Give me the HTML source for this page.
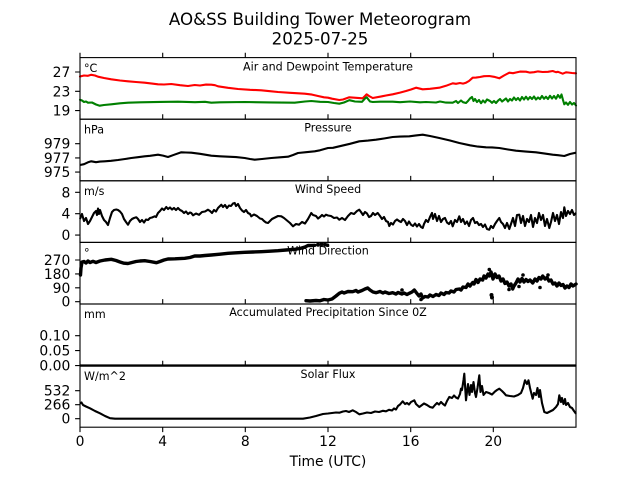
<!DOCTYPE html>
<html>
<head>
<meta charset="utf-8">
<style>
  html, body { margin: 0; padding: 0; background: #ffffff; }
  svg { display: block; }
  text { font-family: "DejaVu Sans", "Liberation Sans", sans-serif; fill: #000; }
</style>
</head>
<body>
<svg width="640" height="480" viewBox="0 0 640 480" xmlns="http://www.w3.org/2000/svg">
  <rect x="0" y="0" width="640" height="480" fill="#fff"/>

  <!-- Title -->
  <text x="320" y="24.8" font-size="16.67" text-anchor="middle">AO&amp;SS Building Tower Meteorogram</text>
  <text x="320" y="44.3" font-size="16.67" text-anchor="middle">2025-07-25</text>

  <!-- ================= Panel 1: Temperature ================= -->
  <g fill="none" stroke-linejoin="round" stroke-linecap="round">
    <path stroke="#ff0000" stroke-width="2.1" d="M80,76.5 L84,75.5 L88,75.8 L91.3,74.8 L95,75.5 L98,76.7 L104,78 L111.3,79.3 L120,80.5 L128,81.3 L136,82 L144.7,82.7 L152,83.6 L158,84.3 L164,84.5 L171.3,84 L180,85.2 L188,86 L194.7,85 L200,85.5 L206,84.6 L211.3,84.7 L215,85.2 L218,86.3 L228,87.8 L238,89 L250,89.8 L261.3,90.3 L270,91.2 L278,92 L290,92.8 L304.7,93.7 L312,94.6 L318,96 L324,97.3 L328,97.7 L332,98.7 L339.3,100 L343,99.5 L349.3,97.3 L356,97.8 L362.7,98.3 L365,96 L366.7,94.3 L369,96 L372.7,98 L380,96.7 L386,95.5 L392.7,94.3 L400,92.6 L406,91 L411,89.5 L416,87.7 L422.7,89.3 L430,88.8 L439.3,87.7 L446,85.8 L452.7,83.3 L456,83.8 L460,83 L463,83.6 L466,82.7 L469,81 L472.7,77.7 L476,77.6 L480,77 L484,76.2 L489.3,76 L494,76.8 L499.3,78.3 L504,75.5 L509.3,72.7 L513,73.2 L516,72.5 L520,71.6 L526,71.7 L530,72.6 L534,72.2 L538,71.4 L542.7,72 L548,71.8 L552.7,71 L556,72.2 L558,71.8 L562.7,73.7 L566,72.3 L568,72.5 L572,73 L576,73.3"/>
    <path stroke="#008000" stroke-width="2.1" d="M80,99.8 L82,100.5 L84,102 L86,101.5 L88,102.7 L92,102.5 L96,104.5 L99.7,105.7 L104,105 L111.3,104.3 L120,103.3 L128,102.7 L140,102.3 L160,101.9 L178,101.7 L195,102.2 L205,101.8 L211.3,102.7 L220,102.3 L244.7,102 L270,102.4 L294.7,102.7 L305,101.5 L311.3,101 L320,101.8 L328,102 L334,103 L339.3,103.7 L344,102.5 L349.3,100.2 L355,101.5 L362,101.8 L365,98.5 L366.7,97.2 L368,99 L370,101.5 L372.7,102 L380,101.7 L392.7,101.7 L400,102.2 L410,101.5 L420,102.3 L426,102 L436,102.5 L440,101.5 L446,102.6 L452.7,102.7 L456,101 L458,103 L461,100.5 L463,102.2 L466,103 L468,101 L470,98.5 L472,97 L473.5,101 L475,99 L477,102 L479,100 L481,103.2 L483,100.5 L485,102.5 L487,99.5 L490,101 L492,102.8 L494,101 L496,103 L498,100.7 L500,99 L502,101.5 L504,100 L506,98.5 L508,101.5 L510,99 L512,100.5 L514,97.5 L516,100 L518,98 L520,100.5 L522,97 L524,99.5 L526,96.7 L528,99.5 L530,97 L532,99 L534,96.5 L536,99.5 L538,97.5 L540,99 L542,96 L544,98.8 L546,96.8 L548,99 L550,95.8 L552,98.5 L554,96 L556,98.7 L558,95 L560,97.8 L561.5,94.5 L563,100 L564.3,104.3 L566,102.5 L568,104.8 L570,102 L572,104.5 L574,103 L576,105.5"/>
  </g>

  <!-- ================= Panel 2: Pressure ================= -->
  <path fill="none" stroke="#000" stroke-width="2.1" stroke-linejoin="round" d="M80,165 L84,164.2 L88,162.3 L91.3,161.3 L96,162.2 L100,161.6 L104.7,161.3 L111,160.8 L118,160 L125,159 L131.3,158 L138,157.2 L144.7,156.3 L150,155.8 L158,154.7 L163,155.6 L168,157 L174,154.8 L181.3,152.3 L186,152.5 L191.3,152.7 L200,153.8 L211.3,155.7 L220,156.3 L228,156.7 L236,157.1 L244.7,158 L250,159 L254.7,159.7 L262,159 L271.3,158 L280,157.3 L288,156.7 L293,155 L298,153 L306,152.2 L314.7,151.3 L320,150.3 L328,148 L333,147.8 L339.3,146.3 L350,143.8 L359.3,141.3 L368,140.6 L376,139.7 L384,138.5 L392.7,137 L400,136.6 L409.3,136.3 L416,135.4 L422.7,134.7 L430,136 L439.3,138 L450,140.5 L459.3,143 L470,145.3 L478,146.6 L486,147.3 L492,147.4 L499.3,148 L508,149.5 L516,150.7 L526,151.6 L536,152.3 L544,153.4 L552.7,154.7 L558,155.2 L564.3,156 L570,154 L576,152.7"/>

  <!-- ================= Panel 3: Wind Speed ================= -->
  <path fill="none" stroke="#000" stroke-width="2.1" stroke-linejoin="round" d="M80,219 L82,214 L84,221 L86,218 L88,224 L90,221 L92,217 L94,213 L96,211 L97,215 L98,208.5 L99,214 L100,210 L102,216 L104,220 L106,222 L108,225 L110,218 L112,212 L114,210 L116.3,209.5 L118,210 L120,211.5 L122,214 L124,219 L126,222 L128,224.7 L130,221 L132,219 L134,218 L136.3,217.3 L138,219 L140,222 L142,220 L144,222.5 L146,219.5 L148,220 L150,218 L152,217.5 L154.7,216.3 L156,217 L158,213 L160,211 L162,208.5 L164,210 L166.3,207 L168,209 L170,207.5 L172,209.5 L174,208 L176,210 L178,208 L180,210 L182,211 L184,213 L186,211.5 L188,214 L190,212.5 L191.3,213 L193,215.3 L196,213.5 L199,214.8 L202,212 L205,211.5 L208,209.7 L210,211 L212,213 L214,210 L216,211.5 L218,208 L220,206 L221.3,204.7 L223,207 L225,205 L227,208 L229,205.5 L231,206 L233,203.5 L234.7,203 L236,206 L238,204 L240,208 L242,210.5 L244,212 L246,210 L248,213 L250,214 L251.3,216.3 L254,214.5 L257,216 L260,218.5 L262,219 L264,221 L266,222.5 L268,223 L270,221 L272,219 L275,217.5 L278,216 L281.3,216.3 L284,218 L287,220.5 L290,223 L293,226.3 L296,224 L299,224.7 L302,222 L305,223.5 L308,219 L311.3,213 L313,215 L316,216 L318,218.5 L320,217 L322,215 L324,216.5 L326,214.7 L328,215.5 L331,216 L334,218 L337,217.5 L339.3,219.7 L342,218 L345,220 L348,216 L351,213 L354,214 L357,211 L359.3,209.7 L361,212 L363,215 L365,212 L367,213.5 L369,217 L371,216 L373,213 L375,215 L377.7,213 L380,216 L382,219 L384,217 L386,221 L388,222 L389.3,226 L391,223 L393,224.5 L395,221 L397,219.5 L399,221 L401,222 L403,219 L405,221 L407,225 L409,221.5 L411,224.7 L413,226 L415,223.5 L417,226.5 L419,224 L421,227 L422.7,228 L424,224 L426,220 L428,222 L430,217 L432,213 L433,219 L435,214 L437,221 L439,216 L441,222 L443,219 L445,218 L447,222.5 L449,224 L451,221 L452.7,226.3 L455,220 L457,222 L459.3,216.3 L461,222 L463,219 L465,224 L467,221.5 L469,226 L471,220 L473,218 L475,223 L477,222 L479,225 L481,224 L483,227 L485,224.5 L487,229 L489.3,229.7 L491,226 L493,228 L495,224 L497,221 L499.3,218 L501,222 L503,224 L505,228 L507,223 L509.3,229 L511,224 L513,218 L515,226 L517,215 L519.3,214.7 L521,223 L523,216 L525,226 L527,219 L529,222 L531,215 L533,227 L535,218 L537,223 L539,213 L541,220 L543,215 L545,226 L547,219 L549.3,228 L551,222 L553,213 L555,221 L557,215 L559,224 L561,212 L563,218 L564.3,207.3 L566,216 L568,211 L570,214 L572,210 L574,215 L576,213"/>

  <!-- ================= Panel 4: Wind Direction ================= -->
  <g fill="none" stroke="#000" stroke-width="3.4" stroke-linejoin="round" stroke-linecap="round">
    <path d="M80.5,275 L81,268 L82,262 L84,261.5 L86,263 L88,261 L90,262.5 L93,261.3 L96,262.5 L100,261 L105,260 L111.3,259.3 L116,260.5 L120,262 L124,263.2 L128,263.5 L132,262.5 L136,261.5 L140,261 L144.7,260.7 L150,261.5 L156.3,262.7 L160,261.5 L164,260 L168,259 L175,258.8 L184.7,258.3 L190,257.5 L194.7,256 L200,256 L205,255.5 L211.3,255 L220,254.2 L228,253.3 L236,252.8 L244.7,252.3 L253,252 L261.3,251.7 L270,251.2 L278,250.7 L286,250 L294.7,249.3 L300,248.5 L305,247 L308,245.5 L312,245.5 L314.7,245.3"/>
    <path d="M306,300.7 L310,301 L316,300.5 L320,300.8 L324,299.5 L328,300 L332,299 L336,296 L339.3,293.3 L342,292 L344,293 L348,291.5 L352.7,291.7 L356,290.5 L358,292 L362,290.5 L365,289 L367.7,288 L370,290 L373,292 L376,292.7 L380,291.5 L383,293 L385,292 L389,293.5 L392.7,292.7 L396,294 L398,292.5 L402,294 L404,293 L407,294.5 L409.3,293.3 L412,292 L414.3,290 L417,293.5 L419,296 L421,294 L422.7,298 L425,296.5 L428,297 L430,295 L433,296.5 L436,294.5 L439,295.5 L441,293 L444,294.5 L446,292.5 L449,293 L451,291 L454,292 L456,289.5 L459.3,289 L461,290 L463,287 L466,287.5 L468,284 L470,286 L472.7,282.5 L474,284 L476,279.5 L478,282.5 L480,279 L482.7,280 L484,276 L486,278 L488,274 L489.3,276 L491,272 L493,279 L495,274 L497,277.5 L499,276 L501,281 L503,279 L505,283.5 L507,282 L509,286 L511,284 L512.7,289 L514,286 L516,283 L518,279 L520,282 L522,278.5 L524,282 L526,279.5 L528,281.5 L530,280 L532.7,283 L535,279 L537,281 L539,277.5 L541,279 L542.7,276 L545,279 L547,277.5 L549,281 L551,280 L553,284 L555,283 L557,286 L559,283 L561,285.5 L563,284.5 L565,288 L567,286 L569,287.5 L571,284 L573,286 L576,284"/>
  </g>
  <g fill="#000">
    <circle cx="318" cy="244.8" r="2"/>
    <circle cx="321.5" cy="244.2" r="2"/>
    <circle cx="325" cy="244.6" r="2"/>
    <circle cx="327.5" cy="245.2" r="1.8"/>
    <circle cx="491.5" cy="295" r="2"/>
    <circle cx="492" cy="297.5" r="2"/>
    <circle cx="489.3" cy="269.5" r="1.8"/>
    <circle cx="509" cy="289.5" r="1.8"/>
    <circle cx="519" cy="286.5" r="1.8"/>
    <circle cx="540" cy="287.5" r="1.8"/>
    <circle cx="523" cy="275" r="1.8"/>
    <circle cx="548" cy="275" r="1.8"/>
    <circle cx="421" cy="299.5" r="1.8"/>
    <circle cx="402" cy="290" r="1.8"/>
  </g>

  <!-- ================= Panel 5: Precipitation ================= -->
  <line x1="80" y1="365.6" x2="576" y2="365.6" stroke="#000" stroke-width="2.4"/>

  <!-- ================= Panel 6: Solar Flux ================= -->
  <path fill="none" stroke="#000" stroke-width="2.1" stroke-linejoin="round" d="M80,403.5 L81.5,402.5 L83,405 L86,406.5 L90,408.3 L95,411 L100,413.3 L105,416 L110,418.2 L115,418.7 L303,418.7 L310,417.5 L316,416 L323,414 L328,413.5 L332,413 L336,412.5 L339.3,412.7 L343,411.5 L346,411 L349,412 L352.7,410.3 L356,412 L359.3,414.3 L363,413.5 L367,412.5 L371,413 L375,411.5 L379,412 L383,410.8 L386,411.3 L389,409.8 L392,410.5 L394,408.5 L396,409.5 L398,406 L400,404.5 L402.7,401.3 L405,404 L407,403 L409,404.5 L411,402 L414.3,400.3 L416,404 L419.3,407 L422,405 L424,403.5 L427,405 L430,407 L432.7,407.7 L435,405 L437,403 L439,404.5 L441,402 L443,404 L445,405.5 L447,401 L449.3,397 L452,398 L454,395.5 L456,397.5 L458,398.5 L460,394 L461,388.7 L462,390 L463.5,380 L464.3,373.7 L465,385 L466,400.3 L467,392 L468,384 L469.5,395 L471,385 L472,392 L473.5,382 L475,393 L476,397 L477.5,388 L479.3,375.3 L480.5,392 L482,386 L483.5,395 L486,392 L489,393 L492,394.5 L495,391.5 L497,390 L499.3,388.7 L502,391 L504,393 L506,395.3 L510,396 L514,396.5 L518,395 L521,393 L523,388 L525,380.3 L527,384 L528.5,380.3 L530,388 L532.7,398.7 L534,393 L536,395 L537.5,388 L539,397 L540,390 L542,403 L544.3,412 L547,413 L550,411.5 L553,410 L556,407 L558,404 L559.3,395.3 L561,402 L562,398 L563.5,404 L565,399 L566,405 L568,403 L570,407 L572,408 L574,411 L576,413.7"/>

  <!-- ================= Axes frames ================= -->
  <g fill="none" stroke="#000" stroke-width="1.1">
    <rect x="80" y="57.6" width="496" height="61.6"/>
    <rect x="80" y="119.2" width="496" height="61.6"/>
    <rect x="80" y="180.8" width="496" height="61.6"/>
    <rect x="80" y="242.4" width="496" height="61.6"/>
    <rect x="80" y="304" width="496" height="61.6"/>
    <rect x="80" y="365.6" width="496" height="61.6"/>
  </g>

  <!-- x ticks -->
  <g stroke="#000" stroke-width="1.1">
    <path d="M80,57.6v-4.9 M162.7,57.6v-4.9 M245.3,57.6v-4.9 M328,57.6v-4.9 M410.7,57.6v-4.9 M493.3,57.6v-4.9"/>
    <path d="M80,119.2v-4.9 M162.7,119.2v-4.9 M245.3,119.2v-4.9 M328,119.2v-4.9 M410.7,119.2v-4.9 M493.3,119.2v-4.9"/>
    <path d="M80,180.8v-4.9 M162.7,180.8v-4.9 M245.3,180.8v-4.9 M328,180.8v-4.9 M410.7,180.8v-4.9 M493.3,180.8v-4.9"/>
    <path d="M80,242.4v-4.9 M162.7,242.4v-4.9 M245.3,242.4v-4.9 M328,242.4v-4.9 M410.7,242.4v-4.9 M493.3,242.4v-4.9"/>
    <path d="M80,304v-4.9 M162.7,304v-4.9 M245.3,304v-4.9 M328,304v-4.9 M410.7,304v-4.9 M493.3,304v-4.9"/>
    <path d="M80,365.6v-4.9 M162.7,365.6v-4.9 M245.3,365.6v-4.9 M328,365.6v-4.9 M410.7,365.6v-4.9 M493.3,365.6v-4.9"/>
    <path d="M80,427.2v4.9 M162.7,427.2v4.9 M245.3,427.2v4.9 M328,427.2v4.9 M410.7,427.2v4.9 M493.3,427.2v4.9"/>
    <!-- y ticks -->
    <path d="M80,72h-4.9 M80,91.3h-4.9 M80,110.6h-4.9"/>
    <path d="M80,143.7h-4.9 M80,157.9h-4.9 M80,172.1h-4.9"/>
    <path d="M80,192.3h-4.9 M80,213.7h-4.9 M80,235.1h-4.9"/>
    <path d="M80,260h-4.9 M80,273.9h-4.9 M80,287.8h-4.9 M80,301.7h-4.9"/>
    <path d="M80,335.7h-4.9 M80,350.6h-4.9 M80,365.6h-4.9"/>
    <path d="M80,390.7h-4.9 M80,404.7h-4.9 M80,418.7h-4.9"/>
  </g>

  <!-- y tick labels -->
  <g font-size="13.89" text-anchor="end">
    <text x="70.3" y="77">27</text>
    <text x="70.3" y="96.3">23</text>
    <text x="70.3" y="115.6">19</text>

    <text x="70.3" y="148.7">979</text>
    <text x="70.3" y="162.9">977</text>
    <text x="70.3" y="177.1">975</text>

    <text x="70.3" y="197.3">8</text>
    <text x="70.3" y="218.7">4</text>
    <text x="70.3" y="240.1">0</text>

    <text x="70.3" y="265">270</text>
    <text x="70.3" y="278.9">180</text>
    <text x="70.3" y="292.8">90</text>
    <text x="70.3" y="306.7">0</text>

    <text x="70.3" y="340.7">0.10</text>
    <text x="70.3" y="355.6">0.05</text>
    <text x="70.3" y="370.6">0.00</text>

    <text x="70.3" y="395.7">532</text>
    <text x="70.3" y="409.7">266</text>
    <text x="70.3" y="423.7">0</text>
  </g>

  <!-- x tick labels -->
  <g font-size="13.89" text-anchor="middle">
    <text x="80" y="446">0</text>
    <text x="162.7" y="446">4</text>
    <text x="245.3" y="446">8</text>
    <text x="328" y="446">12</text>
    <text x="410.7" y="446">16</text>
    <text x="493.3" y="446">20</text>
  </g>
  <text x="328" y="466" font-size="13.89" text-anchor="middle">Time (UTC)</text>

  <!-- panel titles -->
  <g font-size="11.11" text-anchor="middle">
    <text x="328" y="70.3">Air and Dewpoint Temperature</text>
    <text x="328" y="131.5">Pressure</text>
    <text x="328" y="193.1">Wind Speed</text>
    <text x="328" y="254.7">Wind Direction</text>
    <text x="328" y="316.2">Accumulated Precipitation Since 0Z</text>
    <text x="328" y="377.8">Solar Flux</text>
  </g>
  <!-- units -->
  <g font-size="11.11">
    <text x="84" y="72">°C</text>
    <text x="84" y="133.4">hPa</text>
    <text x="84" y="195">m/s</text>
    <text x="84" y="256.6">°</text>
    <text x="84" y="318">mm</text>
    <text x="84" y="379.8">W/m^2</text>
  </g>
</svg>
</body>
</html>
